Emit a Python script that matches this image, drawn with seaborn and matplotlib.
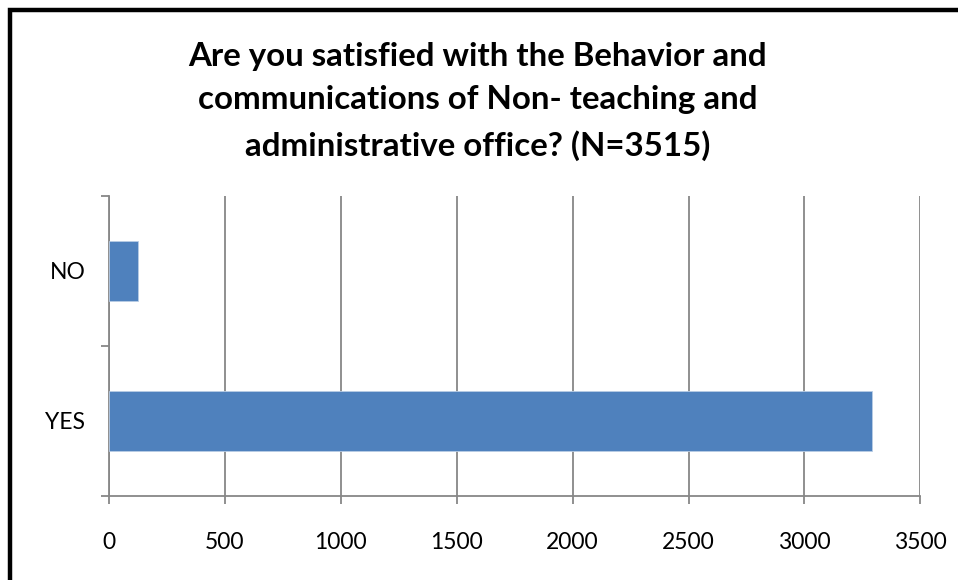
import matplotlib
matplotlib.use("Agg")
import matplotlib.pyplot as plt
import seaborn as sns
import pandas as pd
from matplotlib.patches import Rectangle
from matplotlib.ticker import FixedLocator

# Survey responses
answers = ["NO", "YES"]
counts = [125, 3293]
x_ticks = [0, 500, 1000, 1500, 2000, 2500, 3000, 3500]
title = ("Are you satisfied with the Behavior and\n"
         "communications of Non- teaching and\n"
         "administrative office? (N=3515)")

df = pd.DataFrame({"answer": answers, "count": counts})

sns.set_theme(style="white")
plt.rcParams["font.family"] = ["Lato", "DejaVu Sans"]

W, H = 958, 580
fig = plt.figure(figsize=(W / 100, H / 100), dpi=100)
fig.patch.set_facecolor("white")

ax = fig.add_axes([109 / W, (H - 495.7) / H, (920.3 - 109) / W, (495.7 - 196) / H])

sns.barplot(data=df, x="count", y="answer", order=answers, orient="h",
            color="#4F81BD", saturation=1, width=0.4,
            edgecolor="#B9CDE5", linewidth=0.6, ax=ax, zorder=3)

grid_c = "#878787"
ax.set_xlim(0, 3500)
ax.set_ylim(1.5, -0.5)
ax.set_xticks(x_ticks)
ax.set_xticklabels([str(t) for t in x_ticks])
ax.xaxis.grid(True, color=grid_c, linewidth=1.3, zorder=0)
ax.yaxis.grid(False)
ax.set_xlabel("")
ax.set_ylabel("")

for side in ("top", "right"):
    ax.spines[side].set_visible(False)
for side in ("left", "bottom"):
    ax.spines[side].set_color(grid_c)
    ax.spines[side].set_linewidth(1.3)

ax.tick_params(axis="x", which="major", bottom=True, length=6, width=1.3,
               color=grid_c, labelsize=16.5, labelcolor="black", pad=20)
ax.tick_params(axis="y", which="major", left=False, length=0,
               labelsize=16.5, labelcolor="black", pad=17)
ax.yaxis.set_minor_locator(FixedLocator([-0.5, 0.5, 1.5]))
ax.tick_params(axis="y", which="minor", left=True, length=6, width=1.3,
               color=grid_c)

fig.text(478 / W, 1 - 42 / H, title, ha="center", va="top",
         fontsize=23.8, fontweight="bold", color="black", linespacing=1.6)

# Chart frame
fig.patches.append(Rectangle((9.5 / W, -0.2), 1.2, 1 - 9.5 / H + 0.2,
                             transform=fig.transFigure, fill=False,
                             edgecolor="black", linewidth=3.2, zorder=10))

fig.savefig("out.png", dpi=100, facecolor="white")
